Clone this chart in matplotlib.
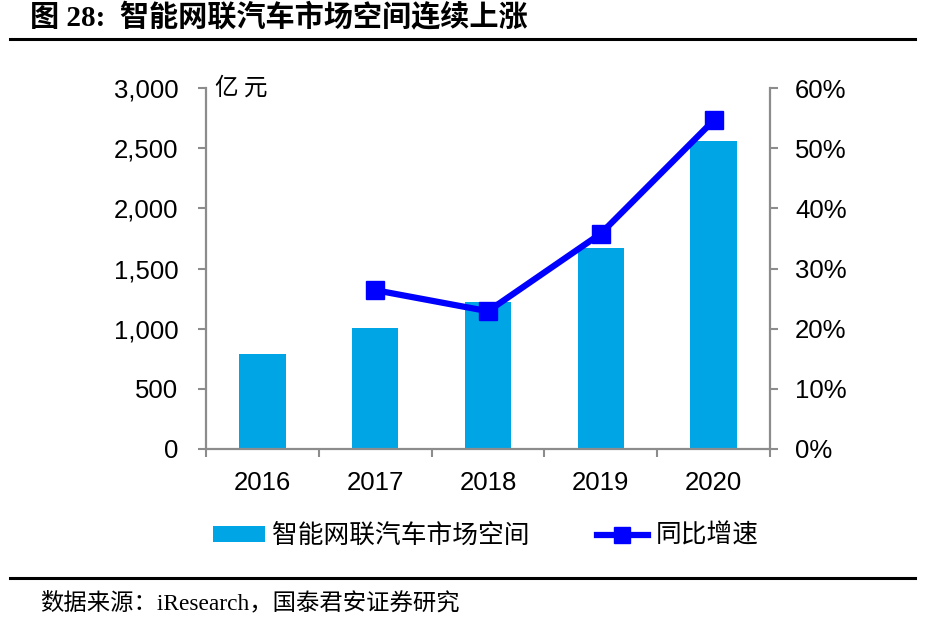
import matplotlib
matplotlib.use("Agg")
import matplotlib.pyplot as plt
from matplotlib.patches import Patch
from matplotlib.lines import Line2D
from matplotlib.ticker import FuncFormatter

plt.rcParams['font.family'] = ['Liberation Sans', 'Noto Sans CJK SC', 'DejaVu Sans']

years = ['2016', '2017', '2018', '2019', '2020']
market = [789, 1003, 1219, 1668, 2562]
growth_years = ['2017', '2018', '2019', '2020']
growth = [26.4, 22.9, 35.8, 54.6]

bar_color = '#00A5E6'
line_color = '#0000FF'
spine_color = '#8C8C8C'
cjk = ['Noto Sans CJK SC', 'DejaVu Sans']

fig = plt.figure(figsize=(9.33, 6.2), dpi=100)
ax = fig.add_axes([206/933, 1-449/620, (770-206)/933, (449-88)/620])

x = list(range(len(years)))
ax.bar(x, market, width=0.41, color=bar_color, zorder=2)
ax.set_xlim(-0.5, len(years)-0.5)
ax.set_ylim(0, 3000)
ax.set_yticks([0, 500, 1000, 1500, 2000, 2500, 3000])
ax.yaxis.set_major_formatter(FuncFormatter(lambda v, p: f'{int(v):,}'))

ax.set_xticks([i-0.5 for i in range(len(years)+1)])
ax.set_xticklabels([''] * (len(years)+1))
ax.set_xticks(x, minor=True)
ax.set_xticklabels(years, minor=True)
ax.tick_params(axis='x', which='minor', length=0, pad=16, labelsize=18.5)
ax.tick_params(axis='x', which='major', length=6, width=1.5, color=spine_color, direction='out')
ax.tick_params(axis='y', length=6, width=1.5, color=spine_color, direction='out', pad=14, labelsize=18.5)

for s in ['top', 'right']:
    ax.spines[s].set_visible(False)
for s in ['left', 'bottom']:
    ax.spines[s].set_color(spine_color)
    ax.spines[s].set_linewidth(1.6)

ax2 = ax.twinx()
gx = [years.index(y) for y in growth_years]
ax2.plot(gx, growth, color=line_color, linewidth=4.5, marker='s', markersize=13,
         markerfacecolor=line_color, markeredgecolor=line_color, zorder=3)
ax2.set_ylim(0, 60)
ax2.set_yticks([0, 10, 20, 30, 40, 50, 60])
ax2.yaxis.set_major_formatter(FuncFormatter(lambda v, p: f'{int(v)}%'))
ax2.tick_params(axis='y', length=6, width=1.5, color=spine_color, direction='out', pad=12, labelsize=18.5)
for s in ['top', 'left', 'bottom']:
    ax2.spines[s].set_visible(False)
ax2.spines['right'].set_color(spine_color)
ax2.spines['right'].set_linewidth(1.6)

# unit label
fig.text(215/933, 1-88/620, '亿 元', family=cjk, fontsize=17, va='center', ha='left')

# title and rules
fig.text(30/933, 1-18/620, '图 28:  智能网联汽车市场空间连续上涨',
         family=['Liberation Serif', 'Noto Sans CJK SC'], fontweight='bold',
         fontsize=21, va='center', ha='left')
fig.add_artist(Line2D([10/933, 915/933], [1-39/620, 1-39/620], color='black', linewidth=2.2))
fig.add_artist(Line2D([10/933, 915/933], [1-578/620, 1-578/620], color='black', linewidth=2.2))
fig.text(40/933, 1-603/620, '数据来源：iResearch，国泰君安证券研究',
         family=['Liberation Serif', 'Noto Sans CJK SC'], fontsize=16.8, va='center', ha='left')

handles = [Patch(facecolor=bar_color, edgecolor='none'),
           Line2D([0], [0], color=line_color, linewidth=4.5, marker='s', markersize=11)]
labels = ['智能网联汽车市场空间', '同比增速']
leg = fig.legend(handles, labels, loc='center', bbox_to_anchor=(486/933, 1-536/620), ncol=2,
                 frameon=False, prop={'family': cjk, 'size': 18.5}, handlelength=2.0,
                 handleheight=0.55, handletextpad=0.3, columnspacing=2.6)

fig.savefig('out.png', dpi=100)
